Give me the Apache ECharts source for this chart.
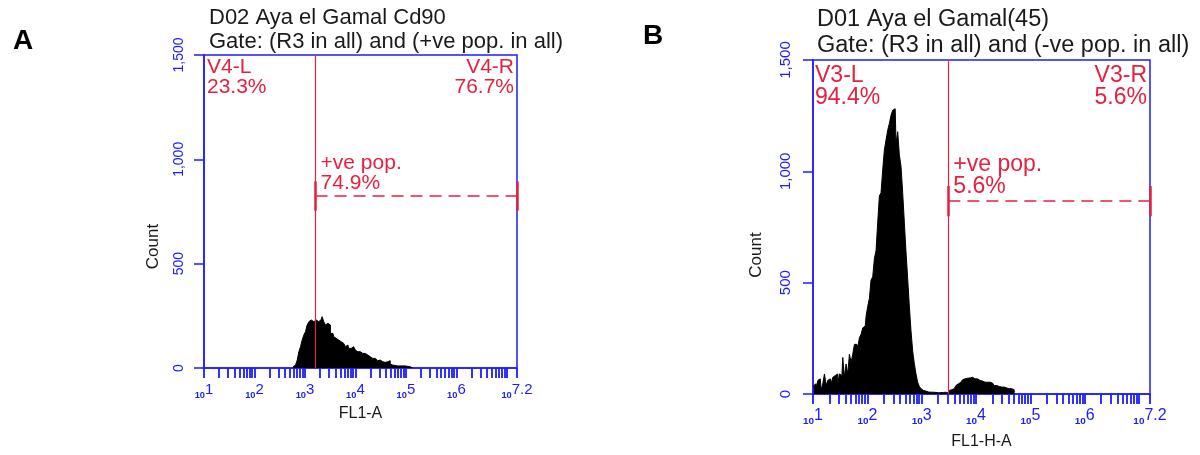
<!DOCTYPE html>
<html>
<head>
<meta charset="utf-8">
<script src="https://cdn.jsdelivr.net/npm/echarts@6/dist/echarts.min.js"></script>
<style>html,body{margin:0;padding:0;background:#fff}#c{width:1200px;height:455px}</style>
</head>
<body>
<div id="c"></div>
<script>
// ---------- data (x values are log10 of fluorescence) ----------
const logFL1A = [2.764,2.797,2.830,2.863,2.895,2.928,2.961,2.994,3.027,3.060,3.093,3.126,3.159,3.192,3.224,3.257,3.290,3.323,3.356,3.389,3.422,3.455,3.488,3.521,3.554,3.586,3.619,3.652,3.685,3.718,3.751,3.784,3.817,3.850,3.883,3.915,3.948,3.981,4.014,4.047,4.080,4.113,4.146,4.179,4.212,4.245,4.277,4.310,4.343,4.376,4.409,4.442,4.475,4.508,4.541,4.574,4.606,4.639,4.672,4.705,4.738,4.771,4.804,4.837,4.870,4.903,4.936,4.968,5.001,5.034,5.067,5.100,5.133];
const countA = [6,14,22,38,78,102,134,158,174,206,222,230,222,214,230,222,230,233,246,222,206,214,206,166,166,150,142,134,126,126,118,126,102,110,94,94,102,94,86,78,78,78,70,70,62,62,54,54,46,46,38,35,38,35,30,27,25,30,35,19,14,12,11,10,10,10,10,10,10,8,6,3,0];

const logFL1HA = [1.012,1.042,1.073,1.104,1.134,1.165,1.195,1.226,1.257,1.287,1.318,1.349,1.379,1.410,1.440,1.471,1.502,1.532,1.563,1.593,1.624,1.655,1.685,1.716,1.747,1.777,1.808,1.838,1.869,1.900,1.930,1.961,1.992,2.022,2.053,2.083,2.114,2.145,2.175,2.206,2.236,2.267,2.298,2.328,2.359,2.390,2.420,2.451,2.481,2.512,2.543,2.573,2.604,2.635,2.665,2.696,2.726,2.757,2.788,2.818,2.849,2.880,2.910,2.941,2.971,3.002,3.033,3.063,3.094,3.124,3.155,3.186,3.216,3.247,3.278,3.308,3.339,3.369,3.400,3.431,3.461,3.492,3.523,3.553,3.584,3.614,3.645,3.676,3.706,3.737,3.767,3.798,3.829,3.859,3.890,3.921,3.951,3.982,4.012,4.043,4.074,4.104,4.135,4.166,4.196,4.227,4.257,4.288,4.319,4.349,4.380,4.411,4.441,4.472,4.502,4.533,4.564,4.594,4.625,4.655,4.686,4.717];
const countB = [38,46,24,61,68,18,46,90,38,61,68,46,75,83,90,46,90,83,164,75,135,90,179,142,179,223,223,208,253,268,297,305,349,394,430,512,526,608,645,771,889,904,1007,1096,1141,1185,1215,1252,1274,1281,1126,1178,1074,1022,904,771,638,519,394,283,194,135,90,53,34,24,16,13,10,9,8,8,8,7,7,6,6,6,7,8,9,4,16,19,24,31,38,46,53,58,64,68,71,75,72,75,72,68,68,64,61,58,61,53,53,49,53,49,43,38,38,34,34,31,31,27,27,24,24,24,19,9,0];

// gates: vertical marker (log10 position), bar level (count), percentages
const gateA = { x: 3.21, level: 824, cap: 70 };
const gateB = { x: 3.49, level: 866, cap: 68 };
const textsA = { left: ['V4-L', '23.3%'], right: ['V4-R', '76.7%'], pos: ['+ve pop.', '74.9%'] };
const textsB = { left: ['V3-L', '94.4%'], right: ['V3-R', '5.6%'], pos: ['+ve pop.', '5.6%'] };
const titlesA = ['D02 Aya el Gamal Cd90', 'Gate: (R3 in all) and (+ve pop. in all)'];
const titlesB = ['D01 Aya el Gamal(45)', 'Gate: (R3 in all) and (-ve pop. in all)'];
const xNames = ['FL1-A', 'FL1-H-A'];
const yName = 'Count';
const xLabelExps = [1, 2, 3, 4, 5, 6, 7.2];
const X_MIN = 1, X_MAX = 7.2;
const Y_MIN = 0, Y_MAX = 1500, Y_STEP = 500;

// ---------- styling ----------
const BLUE = '#1c1cff';
const RED = '#e6213f';
const INK = '#1a1a1a';
const FONT = '"Liberation Sans", Arial, sans-serif';

// log minor ticks at k*10^n
const minorTicks = [];
for (let n = 1; n <= 7; n++) {
  for (let k = 1; k <= 9; k++) {
    const v = n + Math.log10(k);
    if (v <= X_MAX + 1e-9) minorTicks.push(+v.toFixed(4));
  }
}
minorTicks.push(X_MAX);

function zip(xs, ys) { return xs.map((x, i) => [x, ys[i]]); }

function xAxisCfg(idx, name, fs, gap) {
  return {
    gridIndex: idx, type: 'value', min: X_MIN, max: X_MAX,
    axisLine: { show: true, lineStyle: { color: BLUE, width: 1.5 } },
    axisTick: { show: true, customValues: minorTicks, length: 10, lineStyle: { color: BLUE, width: 1.8 } },
    axisLabel: {
      customValues: xLabelExps, margin: 14, fontFamily: FONT,
      formatter: v => '{b|10}{e|' + String(+(+v).toFixed(1)) + '}',
      rich: {
        b: { fontSize: fs * 0.62, fontWeight: 'bold', color: BLUE, fontFamily: FONT, verticalAlign: 'bottom', lineHeight: 18 },
        e: { fontSize: fs, color: BLUE, fontFamily: FONT, verticalAlign: 'top', lineHeight: 18 }
      }
    },
    splitLine: { show: false },
    name: name, nameLocation: 'middle', nameGap: gap,
    nameTextStyle: { fontSize: 16, color: INK, fontFamily: FONT }
  };
}
function yAxisCfg(idx, fs, margin, gap, shift) {
  return {
    gridIndex: idx, type: 'value', min: Y_MIN, max: Y_MAX, interval: Y_STEP,
    axisLine: { show: true, lineStyle: { color: BLUE, width: 1.5 } },
    axisTick: { show: true, length: 10, lineStyle: { color: BLUE, width: 1.5 } },
    axisLabel: { rotate: 90, color: BLUE, fontSize: fs, margin: margin, fontFamily: FONT,
      formatter: v => Number(v).toLocaleString('en-US') },
    splitLine: { show: false },
    name: yName, nameLocation: 'middle', nameGap: gap,
    nameTextStyle: { fontSize: 17, color: INK, fontFamily: FONT, padding: [0, shift, 0, 0] }
  };
}
function histSeries(idx, data) {
  return {
    type: 'line', xAxisIndex: idx, yAxisIndex: idx, data: data, step: 'middle',
    symbol: 'none', lineStyle: { color: '#000', width: 1 },
    areaStyle: { color: '#000', opacity: 1 }, z: 2, silent: true
  };
}
function gateSeries(idx, g, t, fs, lh, offs) {
  const solid = { color: RED, width: 1.2, type: 'solid' };
  const capS = { color: RED, width: 2.5, type: 'solid' };
  return {
    type: 'line', xAxisIndex: idx, yAxisIndex: idx, data: [], z: 5, silent: true,
    markLine: {
      silent: true, symbol: ['none', 'none'], animation: false,
      label: { show: false },
      data: [
        { xAxis: g.x, lineStyle: solid },
        [{ coord: [g.x, g.level], lineStyle: { color: RED, width: 1.5, type: [12, 7] } }, { coord: [X_MAX, g.level] }],
        [{ coord: [g.x, g.level - g.cap], lineStyle: capS }, { coord: [g.x, g.level + g.cap] }],
        [{ coord: [X_MAX, g.level - g.cap], lineStyle: capS }, { coord: [X_MAX, g.level + g.cap] }]
      ]
    },
    markPoint: {
      silent: true, symbol: 'rect', symbolSize: 1, animation: false,
      itemStyle: { color: 'rgba(0,0,0,0)' },
      label: { show: true, position: 'inside', color: RED, fontSize: fs, lineHeight: lh, fontFamily: FONT },
      data: [
        { coord: [X_MIN, Y_MAX], label: { formatter: t.left.join('\n'), align: 'left', verticalAlign: 'top', offset: offs.left } },
        { coord: [X_MAX, Y_MAX], label: { formatter: t.right.join('\n'), align: 'right', verticalAlign: 'top', offset: offs.right } },
        { coord: [g.x, g.level], label: { formatter: t.pos.join('\n'), align: 'left', verticalAlign: 'bottom', offset: offs.pos } }
      ]
    }
  };
}

const chart = echarts.init(document.getElementById('c'), null, { renderer: 'canvas' });
chart.setOption({
  animation: false,
  backgroundColor: '#fff',
  textStyle: { fontFamily: FONT },
  title: [
    { text: titlesA.join('\n'), left: 204, top: 1, textStyle: { fontSize: 22, lineHeight: 24, fontWeight: 'normal', color: INK, fontFamily: FONT } },
    { text: titlesB.join('\n'), left: 812, top: 2, textStyle: { fontSize: 23.5, lineHeight: 26, fontWeight: 'normal', color: INK, fontFamily: FONT } },
    { text: 'A', left: 8, top: 22, textStyle: { fontSize: 28, fontWeight: 'bold', color: '#000', fontFamily: FONT } },
    { text: 'B', left: 638, top: 17, textStyle: { fontSize: 28, fontWeight: 'bold', color: '#000', fontFamily: FONT } }
  ],
  grid: [
    { left: 204, top: 55, width: 313, height: 313, show: true, borderColor: BLUE, borderWidth: 1.5, backgroundColor: 'transparent' },
    { left: 813, top: 60, width: 337, height: 337, show: true, borderColor: BLUE, borderWidth: 1.5, backgroundColor: 'transparent' }
  ],
  xAxis: [xAxisCfg(0, xNames[0], 15, 38), xAxisCfg(1, xNames[1], 16, 40)],
  yAxis: [yAxisCfg(0, 14, 18, 42, 70), yAxisCfg(1, 15, 20, 48, 56)],
  series: [
    histSeries(0, zip(logFL1A, countA)),
    histSeries(1, zip(logFL1HA, countB)),
    gateSeries(0, gateA, textsA, 21, 20, { left: [3, 2], right: [-3, 2], pos: [5, -3] }),
    gateSeries(1, gateB, textsB, 23, 22, { left: [2, 5], right: [-3, 5], pos: [5, -4] })
  ]
});
</script>
</body>
</html>
